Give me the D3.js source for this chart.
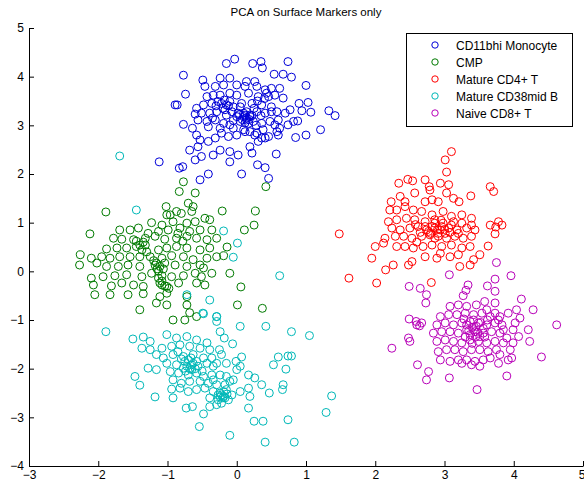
<!DOCTYPE html>
<html>
<head>
<meta charset="utf-8">
<script src="https://cdn.jsdelivr.net/npm/d3@7"></script>
<style>
  body { margin: 0; background: #fff; }
  text { font-family: "Liberation Sans", Arial, sans-serif; fill: #000; }
</style>
</head>
<body>
<div id="chart"></div>
<script>
// groups in the order they were plotted
const groups = ["CD11bhi Monocyte", "CMP", "Mature CD4+ T", "Mature CD38mid B", "Naive CD8+ T"];
const colors = ["#0000d8", "#007a00", "#ff0000", "#00b8b8", "#b800b8"];
const xTicks = [-3, -2, -1, 0, 1, 2, 3, 4, 5];
const yTicks = [-4, -3, -2, -1, 0, 1, 2, 3, 4, 5];

const monocyte = [
  [-0.03,4.36],[-0.15,4.27],[0.23,4.27],[0.35,4.31],[0.37,4.18],[0.74,4.31],[-0.77,4.03],[0.54,4.05],[0.67,4.05],[0.79,3.99],
  [1.0,3.82],[-0.74,3.64],[-0.89,3.42],[-0.86,3.42],[1.33,3.30],[1.42,3.20],[1.21,2.91],[-0.77,3.02],[-1.12,2.25],[-0.83,2.12],
  [-0.78,2.15],[-0.53,1.88],[-0.41,2.0],[0.07,2.0],[0.46,1.91],[0.30,2.19],[0.41,2.13],[0.57,2.41],[0.85,2.75],[1.0,2.80],
  [1.07,3.27],[0.94,3.30],[1.03,3.47],[0.90,3.45],[0.77,3.32],[0.70,3.25],[0.82,3.08],[0.74,3.01],[0.88,3.09],[0.62,2.94],
  [0.55,3.01],[0.60,2.80],[-0.10,2.46],[-0.10,2.25],[0.02,2.39],[-0.34,2.39],[-0.24,2.49],[-0.51,2.36],[-0.60,2.29],[-0.68,2.49],
  [-0.56,2.56],[0.22,2.43],[0.19,2.56],[0.31,2.67],[0.41,2.74],[-0.64,2.94],[-0.58,2.80],[-0.53,2.70],[-0.41,2.67],[-0.31,2.74],
  [-0.22,2.84],[-0.12,2.77],[0.00,2.80],[0.12,2.87],[0.26,2.80],[0.36,2.74],[0.46,2.77],[0.58,2.87],
  [-0.49,3.93],[-0.24,3.97],[-0.10,3.97],[0.14,3.90],[0.26,3.90],[0.41,3.73],[0.50,3.76],[0.62,3.76],
  [-0.46,3.80],[-0.31,3.80],[-0.19,3.83],[0.00,3.83],[0.12,3.80],[0.29,3.80],[0.43,3.66],[0.55,3.62],[0.67,3.56],
  [-0.43,3.59],[-0.34,3.62],[-0.24,3.62],[-0.10,3.66],[0.00,3.62],[0.17,3.66],[0.31,3.59],[0.46,3.59],
  [-0.58,3.35],[-0.48,3.42],[-0.36,3.45],[-0.27,3.49],[-0.15,3.42],[-0.05,3.38],[0.07,3.45],[0.22,3.45],[0.36,3.42],[0.50,3.38],[0.58,3.28],
  [-0.60,3.23],[-0.51,3.25],[-0.39,3.25],[-0.29,3.28],[-0.17,3.32],[-0.07,3.28],[0.02,3.25],[0.12,3.21],[0.19,3.18],[0.29,3.28],[0.41,3.25],[0.50,3.28],
  [-0.56,3.11],[-0.43,3.08],[-0.31,3.11],[-0.19,3.04],[-0.10,3.01],[0.05,3.08],[0.14,3.11],[0.24,3.08],[0.36,3.04],[0.48,3.08],[0.60,3.11],
  [-0.41,2.97],[-0.24,2.94],[-0.05,2.94],[0.10,2.91],[0.19,2.87],[0.29,2.84],[0.38,2.91],
  [0.05,3.38],[0.14,3.28],[0.10,3.18],[0.17,3.04],[0.00,3.18],[-0.15,3.21],[0.14,3.15],[0.19,3.21],[0.10,3.25],[-0.10,3.49],[-0.20,3.35],[0.25,3.35],
  [0.08,3.12],[0.18,3.12],[0.12,3.05],[0.22,3.20],[0.04,3.22],[-0.22,3.45],[-0.12,3.40],[-0.18,3.52],[-0.30,3.40],[0.30,3.50],
  [0.35,3.20],[-0.05,3.10],[0.28,3.00],[-0.35,3.15],[0.40,3.55]
];

const cmp = [
  [-0.77,1.84],[-0.83,1.64],[-0.60,1.61],[-1.89,1.22],[-2.12,0.77],[-2.26,0.34],[-2.27,0.13],[-0.21,1.24],[0.27,1.24],[0.25,0.95],
  [0.11,0.85],[0.42,1.74],[0.06,-0.32],[0.01,-0.69],[0.37,-0.76],[-0.10,-0.04],[-0.36,-0.04],[-0.14,0.50],[-0.29,0.30],[-0.19,0.32],
  [-1.02,1.33],[-0.70,1.40],[-0.63,1.33],[-0.65,1.23],[-0.87,1.23],[-0.80,1.19],[-0.96,1.16],[-1.01,1.16],
  [-1.23,1.00],[-1.08,0.95],[-0.92,1.02],[-0.72,0.99],[-0.60,1.02],[-0.46,1.09],[-0.39,1.06],
  [-1.69,0.85],[-1.54,0.85],[-1.42,0.89],[-1.28,0.78],[-1.13,0.82],[-0.99,0.85],[-0.82,0.89],[-0.68,0.82],[-0.53,0.85],[-0.36,0.85],
  [-1.78,0.68],[-1.66,0.66],[-1.49,0.65],[-1.32,0.68],[-1.18,0.72],[-1.04,0.66],[-0.87,0.68],[-0.72,0.72],[-0.58,0.68],[-0.43,0.65],[-0.29,0.68],
  [-1.88,0.46],[-1.73,0.48],[-1.59,0.48],[-1.45,0.51],[-1.32,0.54],[-1.13,0.44],[-1.01,0.48],[-0.87,0.51],[-0.72,0.48],[-0.53,0.44],[-0.39,0.48],
  [-2.10,0.27],[-1.95,0.30],[-1.83,0.27],[-1.69,0.30],[-1.54,0.30],[-1.40,0.30],[-1.25,0.30],[-1.08,0.27],[-0.94,0.32],[-0.77,0.30],[-0.63,0.24],[-0.43,0.27],
  [-2.02,0.17],[-1.88,0.10],[-1.71,0.10],[-1.57,0.13],[-1.40,0.10],[-1.18,0.13],[-1.11,0.10],[-1.04,0.17],[-0.89,0.13],[-0.72,0.10],[-0.53,0.13],[-0.48,0.07],
  [-2.10,-0.14],[-1.93,-0.11],[-1.76,-0.09],[-1.59,-0.07],[-1.37,-0.11],[-1.23,-0.04],[-1.08,-0.09],[-0.94,-0.11],[-0.77,-0.09],[-0.60,-0.04],[-0.51,-0.11],
  [-2.07,-0.28],[-1.81,-0.30],[-1.66,-0.24],[-1.49,-0.28],[-1.35,-0.31],[-1.08,-0.28],[-1.01,-0.31],[-0.84,-0.24],[-0.58,-0.24],[-0.46,-0.28],
  [-2.05,-0.48],[-1.83,-0.48],[-1.57,-0.48],[-1.35,-0.46],[-1.11,-0.52],[-1.01,-0.45],[-0.72,-0.52],
  [-1.40,-0.79],[-1.16,-0.65],[-1.01,-0.69],[-0.72,-0.69],[-0.92,-1.00],[-0.75,-1.00],[-0.68,-0.85],[-0.58,-0.93],
  [-1.13,-0.14],[-1.11,-0.24],[-1.04,-0.30],[-1.16,0.17],[-1.15,0.05],[-1.37,0.44],[-1.40,0.54],[-1.30,0.40],
  [-1.13,0.00],[-1.06,0.05],[-1.20,0.22],[-1.08,-0.20],[-0.98,-0.35],[-1.45,0.62],[-1.35,0.60],[-0.85,0.78],[-0.78,0.62]
];

const cd4 = [
  [3.10,2.46],[3.01,2.29],[3.03,2.04],[1.48,0.77],[1.62,-0.14],[2.02,-0.24],[2.81,-0.23],[3.66,1.74],[3.71,1.64],[3.38,1.55],
  [3.21,1.43],[3.13,1.50],[3.03,1.61],[2.94,1.81],[3.06,1.78],[3.83,0.95],[3.78,1.02],[3.66,0.95],[3.74,0.91],[3.73,0.77],
  [3.63,0.52],[1.95,0.27],[2.15,0.03],[2.26,0.13],[2.48,0.13],[2.53,0.20],[2.72,0.30],[2.89,0.27],[2.94,0.37],[3.08,0.30],
  [3.20,0.34],[3.22,0.10],[3.37,0.13],[3.42,0.24],[3.51,0.34],
  [2.34,1.81],[2.47,1.89],[2.54,1.86],[2.72,1.88],[2.78,1.74],[2.57,1.61],[2.79,1.67],[2.36,1.54],[2.23,1.43],[2.21,1.26],
  [2.43,1.43],[2.72,1.43],[2.82,1.47],[2.91,1.43],
  [2.31,1.26],[2.43,1.33],[2.55,1.26],[2.67,1.23],[2.82,1.16],[2.98,1.23],[3.10,1.13],[3.25,1.16],[3.39,1.09],
  [2.19,1.02],[2.31,1.06],[2.45,1.09],[2.57,1.06],[2.72,1.02],[2.86,1.06],[2.98,0.99],[3.13,1.02],[3.25,0.99],[3.39,0.95],
  [2.24,0.89],[2.36,0.85],[2.50,0.89],[2.62,0.92],[2.74,0.85],[2.86,0.89],[2.94,0.85],[3.06,0.89],[3.18,0.85],[3.32,0.89],[3.44,0.85],
  [2.14,0.68],[2.29,0.72],[2.41,0.72],[2.53,0.68],[2.67,0.72],[2.79,0.75],[2.91,0.72],[3.03,0.68],[3.15,0.72],[3.27,0.68],[3.39,0.72],
  [2.00,0.51],[2.12,0.58],[2.31,0.51],[2.43,0.51],[2.55,0.48],[2.69,0.51],[2.82,0.54],[2.96,0.51],[3.10,0.54],[3.25,0.48],[3.37,0.51],
  [2.86,0.99],[2.82,0.92],[2.91,0.78],[2.77,0.82],[2.96,0.92],[2.72,0.92],[3.01,0.78],[2.86,0.68],
  [2.90,0.86],[3.00,0.86],[2.80,0.78],[3.08,0.80],[2.65,0.80],[3.20,0.78],[2.58,0.96],[3.10,0.95],[2.95,1.05],[2.60,0.60]
];

const cd38b = [
  [-1.69,2.37],[-1.45,1.26],[-0.19,0.83],[0.01,0.58],[-0.05,0.29],[0.62,-0.09],[-0.72,-0.48],[-0.39,-0.59],[-0.49,-0.86],[-0.29,-0.93],
  [-1.89,-1.24],[-1.50,-1.39],[-1.47,-2.16],[-1.40,-2.34],[-1.18,-2.58],[-0.92,-2.60],[-0.73,-2.81],[-0.64,-2.78],[-0.54,-3.19],[-0.48,-2.93],
  [-0.10,-3.37],[0.25,-3.08],[0.38,-3.08],[0.41,-3.51],[0.83,-3.51],[0.74,-3.05],[1.29,-2.90],[1.37,-2.56],[1.05,-1.32],[0.79,-1.24],
  [0.42,-1.13],[0.05,-1.13],[-0.29,-0.93],[-0.29,-1.03],[-0.48,-0.87],
  [-0.24,-1.24],[-0.18,-1.37],[-0.06,-1.49],[-0.25,-1.61],[-0.22,-1.71],[0.07,-1.76],[-0.01,-1.85],[-0.15,-1.89],[-0.29,-1.89],[0.05,-1.95],
  [0.00,-2.02],[0.60,-1.76],[0.74,-1.74],[0.79,-1.74],[0.53,-1.92],[0.71,-2.01],[0.17,-2.13],[0.26,-2.19],[0.36,-2.33],[0.47,-2.50],
  [0.67,-2.33],[0.66,-2.43],[0.17,-2.40],[0.19,-2.57],[0.05,-2.47],[-0.05,-2.23],[-0.15,-2.16],[0.17,-2.81],[-0.34,-2.23],
  [-1.35,-1.35],[-1.25,-1.44],[-1.01,-1.30],[-0.87,-1.37],[-0.72,-1.34],[-0.58,-1.41],[-0.43,-1.47],
  [-1.37,-1.58],[-1.25,-1.61],[-1.08,-1.58],[-0.94,-1.54],[-0.82,-1.51],[-0.68,-1.54],[-0.53,-1.58],[-0.39,-1.61],
  [-1.16,-1.71],[-1.06,-1.78],[-0.92,-1.71],[-0.77,-1.75],[-0.63,-1.71],[-0.48,-1.78],[-0.36,-1.78],
  [-1.28,-1.99],[-1.16,-2.02],[-1.01,-1.89],[-0.87,-1.92],[-0.75,-1.85],[-0.65,-1.92],[-0.56,-1.95],[-0.43,-1.89],[-0.34,-1.95],
  [-0.96,-2.06],[-0.84,-2.09],[-0.70,-2.13],[-0.58,-2.09],[-0.48,-2.16],[-0.36,-2.13],[-0.24,-2.13],
  [-0.92,-2.23],[-0.80,-2.30],[-0.68,-2.26],[-0.53,-2.26],[-0.41,-2.30],[-0.29,-2.33],[-0.17,-2.33],[-0.10,-2.26],
  [-0.94,-2.42],[-0.82,-2.40],[-0.70,-2.47],[-0.58,-2.43],[-0.46,-2.40],[-0.34,-2.47],[-0.24,-2.50],[-0.15,-2.43],[-0.07,-2.54],
  [-0.39,-2.60],[-0.27,-2.64],[-0.19,-2.57],[-0.12,-2.64],[-0.29,-2.74],[-0.39,-2.78],[-0.22,-2.71],
  [-0.72,-1.95],[-0.65,-2.02],[-0.77,-1.99],[-0.63,-1.89],[-0.70,-1.82],[-0.58,-1.85],[-0.22,-2.54],[-0.17,-2.60],[-0.27,-2.54],[-0.19,-2.47],
  [-0.68,-2.00],[-0.74,-2.05],[-0.60,-2.00],[-0.80,-1.80],[-0.66,-1.78],[-0.20,-2.60],[-0.24,-2.58],[-0.14,-2.52],[-0.85,-1.65],[-0.50,-2.05]
];

const cd8 = [
  [3.75,0.18],[3.96,-0.09],[3.73,-0.16],[3.62,-0.30],[3.73,-0.41],[3.34,-0.28],[3.31,-0.39],[3.27,-0.50],[3.07,-0.07],[2.49,-0.31],
  [2.65,-0.35],[2.74,-0.48],[2.73,-0.65],[2.49,-0.98],[2.59,-1.03],[2.64,-1.12],[2.67,-1.06],[2.48,-1.37],[2.50,-1.44],[2.24,-1.58],
  [2.61,-1.92],[2.77,-2.06],[2.74,-2.23],[3.07,-2.19],[3.47,-2.43],[3.90,-2.15],[4.40,-1.76],[4.62,-1.10],[4.28,-0.79],[4.11,-0.57],
  [4.21,-1.20],[4.23,-1.44],[2.60,-1.10],
  [4.04,-0.79],[4.09,-0.96],[4.02,-1.06],[3.99,-1.20],[4.07,-1.34],[3.99,-1.47],[3.95,-1.61],[3.97,-1.78],[3.92,-1.82],[3.80,-1.71],
  [3.78,-1.89],[3.90,-1.37],[3.85,-1.20],[3.92,-0.86],[3.80,-0.93],[3.73,-0.65],[3.58,-0.62],
  [3.08,-0.72],[3.20,-0.69],[3.32,-0.72],[3.46,-0.69],[3.61,-0.79],[3.73,-0.86],
  [2.94,-0.93],[3.06,-0.89],[3.18,-0.89],[3.30,-0.86],[3.42,-0.89],[3.54,-0.86],[3.66,-0.93],[3.78,-1.00],
  [2.89,-1.10],[3.01,-1.06],[3.13,-1.10],[3.25,-1.06],[3.37,-1.03],[3.49,-1.06],[3.61,-1.10],[3.73,-1.06],[3.83,-1.10],
  [2.84,-1.27],[2.96,-1.24],[3.08,-1.24],[3.20,-1.27],[3.32,-1.20],[3.44,-1.24],[3.56,-1.27],[3.68,-1.24],[3.80,-1.27],
  [2.89,-1.44],[3.01,-1.41],[3.13,-1.44],[3.25,-1.47],[3.37,-1.41],[3.49,-1.44],[3.61,-1.47],[3.73,-1.44],[3.85,-1.47],
  [2.91,-1.65],[3.03,-1.61],[3.15,-1.61],[3.27,-1.65],[3.39,-1.61],[3.51,-1.61],[3.63,-1.65],[3.75,-1.61],
  [2.94,-1.82],[3.08,-1.85],[3.20,-1.82],[3.32,-1.82],[3.44,-1.85],[3.56,-1.82],[3.66,-1.78],[3.51,-1.95],[3.39,-1.92],[3.25,-1.89],
  [3.42,-1.20],[3.46,-1.13],[3.37,-1.30],[3.51,-1.34],[3.32,-1.10],[3.42,-1.00],[3.56,-1.17],
  [3.40,-1.15],[3.48,-1.25],[3.35,-1.22],[3.52,-1.05],[3.45,-1.35],[3.30,-1.35],[3.58,-1.35],[3.28,-0.98],[3.62,-1.00],[3.40,-1.48]
];

const series = [monocyte, cmp, cd4, cd38b, cd8];

const W = 584, H = 482;
const m = { left: 29, right: 1, top: 28, bottom: 16 };

const svg = d3.select("#chart").append("svg")
    .attr("width", W)
    .attr("height", H);

let x = d3.scaleLinear().domain([-3, 5]).range([m.left, W - m.right]);
let y = d3.scaleLinear().domain([-4, 5]).range([H - m.bottom, m.top]);

// points, one group per population
series.forEach((pts, i) => {
    svg.append("g")
        .attr("class", "grp")
        .selectAll("circle")
        .data(pts)
        .enter().append("circle")
        .attr("cx", (d) => x(d[0]))
        .attr("cy", (d) => y(d[1]))
        .attr("r", 4)
        .attr("fill", "none")
        .attr("stroke", colors[i])
        .attr("stroke-width", 1);
});

// axes, ticks point inwards like matlab
let xAxis = svg.append("g")
    .attr("transform", "translate(0," + (H - m.bottom) + ")")
    .call(d3.axisBottom(x).tickValues(xTicks).tickSize(-5).tickPadding(6).tickSizeOuter(0));
let yAxis = svg.append("g")
    .attr("transform", "translate(" + m.left + ",0)")
    .call(d3.axisLeft(y).tickValues(yTicks).tickSize(-5).tickPadding(5).tickSizeOuter(0));

[xAxis, yAxis].forEach((a) => {
    a.selectAll("text").style("font-size", "12px").attr("fill", "#000");
    a.selectAll("line").attr("stroke", "#000");
    a.select(".domain").attr("stroke", "#000");
});
xAxis.selectAll("text").attr("dy", "0.6em");
// last label sits on the window edge, keep it inside
xAxis.selectAll(".tick")
    .filter((d) => d === xTicks[xTicks.length - 1])
    .select("text")
    .attr("text-anchor", "end")
    .attr("dx", "2px");

svg.append("text")
    .attr("x", (m.left + W - m.right) / 2)
    .attr("y", 16)
    .attr("text-anchor", "middle")
    .style("font-size", "11.5px")
    .text("PCA on Surface Markers only");

// legend
let legend = svg.append("g").attr("transform", "translate(406,33)");
legend.append("rect")
    .attr("x", 0.5).attr("y", 0.5)
    .attr("width", 166).attr("height", 93)
    .attr("fill", "#fff")
    .attr("stroke", "#000");

groups.forEach((g, i) => {
    let row = legend.append("g").attr("transform", "translate(0," + (12 + 17 * i) + ")");
    row.append("circle")
        .attr("cx", 29).attr("cy", 0).attr("r", 3.2)
        .attr("fill", "none")
        .attr("stroke", colors[i]);
    row.append("text")
        .attr("x", 50).attr("y", 4.5)
        .style("font-size", "12px")
        .text(g);
});
</script>
</body>
</html>
